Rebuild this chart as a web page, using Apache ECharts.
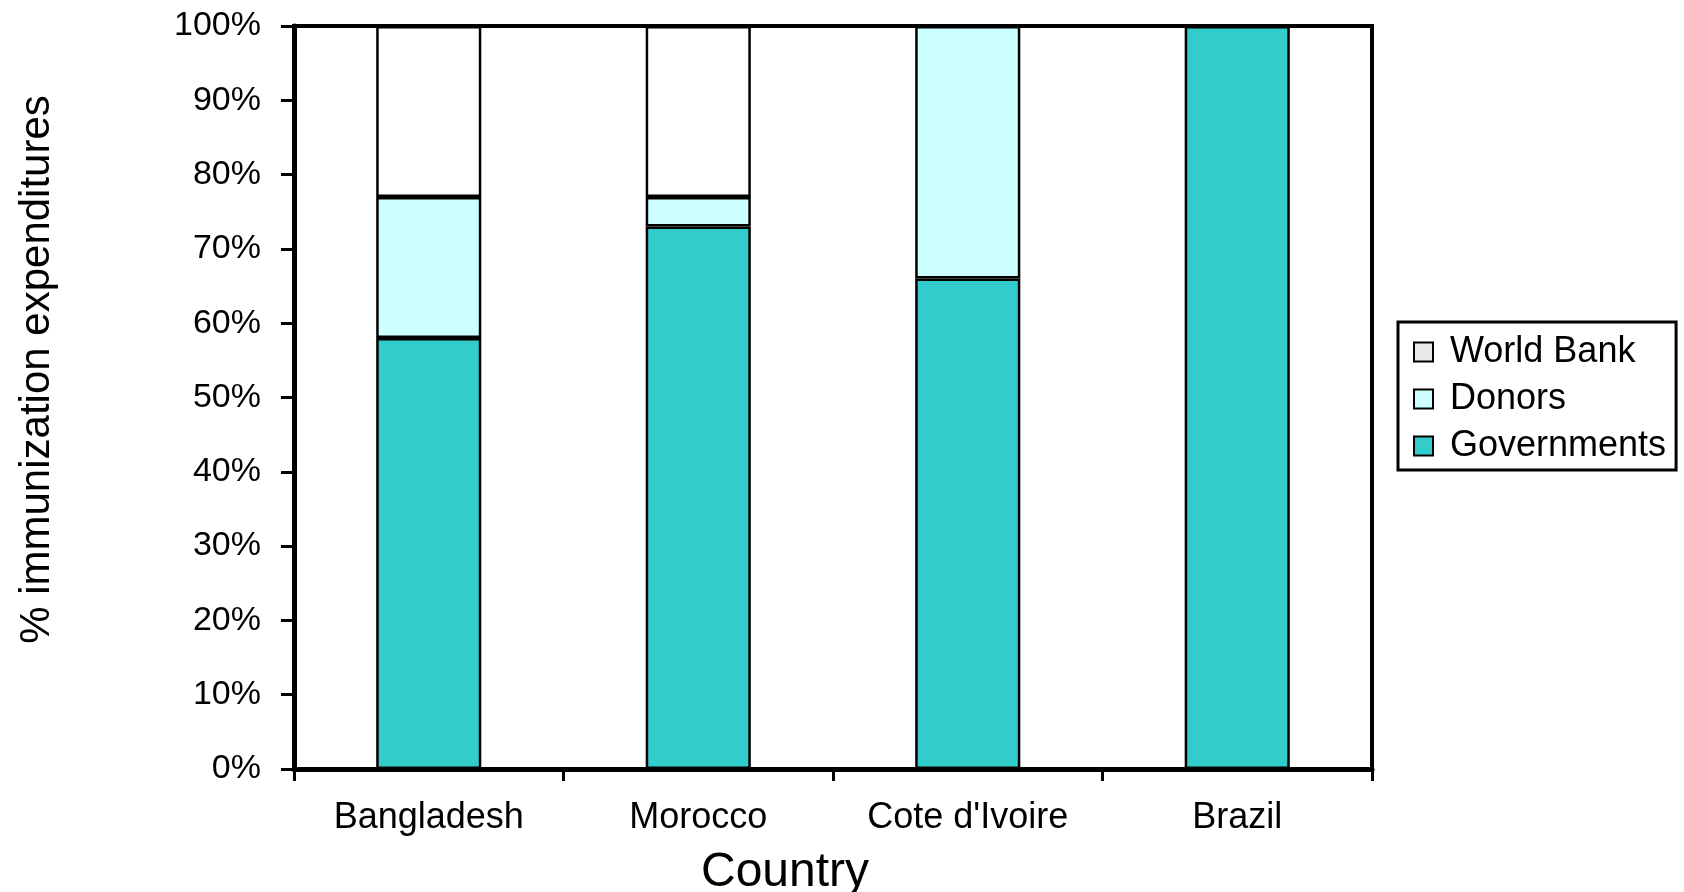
<!DOCTYPE html>
<html>
<head>
<meta charset="utf-8">
<title>Immunization expenditures by source</title>
<script src="https://cdn.jsdelivr.net/npm/echarts@6/dist/echarts.min.js"></script>
<style>
  html, body { margin: 0; padding: 0; background: #ffffff; }
  #chart { width: 1684px; height: 892px; }
</style>
</head>
<body>
<div id="chart"></div>
<script>
// Share of immunization expenditures by funding source (percent of total)
const countries = ['Bangladesh', 'Morocco', "Cote d'Ivoire", 'Brazil'];
const governments = [58, 73, 66, 100];
const donors = [19, 4, 34, 0];
const worldBank = [23, 23, 0, 0];

const FONT = '"Liberation Sans", Arial, sans-serif';
const chart = echarts.init(document.getElementById('chart'), null, { renderer: 'canvas' });

const barStyle = (color) => ({ color: color, borderColor: '#000000', borderWidth: 2.5 });

chart.setOption({
  backgroundColor: '#ffffff',
  animation: false,
  textStyle: { fontFamily: FONT, color: '#000000' },
  grid: {
    left: 294, right: 312, top: 26, bottom: 123,
    outerBoundsMode: 'none',
    show: true, borderColor: '#000000', borderWidth: 4, backgroundColor: 'transparent'
  },
  legend: {
    orient: 'vertical',
    left: 1398, top: 322,
    data: [
      { name: 'World Bank', itemStyle: { color: '#e8e8e8', borderColor: '#000000', borderWidth: 2 } },
      { name: 'Donors', itemStyle: { color: '#ccffff', borderColor: '#000000', borderWidth: 2 } },
      { name: 'Governments', itemStyle: { color: '#33cccc', borderColor: '#000000', borderWidth: 2 } }
    ],
    icon: 'rect',
    itemWidth: 19, itemHeight: 19, itemGap: 11,
    padding: [12, 10, 6, 15],
    borderColor: '#000000', borderWidth: 3,
    selectedMode: false,
    textStyle: { fontFamily: FONT, fontSize: 36, color: '#000000', padding: [0, 0, 0, 12] }
  },
  xAxis: {
    type: 'category',
    data: countries,
    name: 'Country',
    nameLocation: 'middle',
    nameGap: 80,
    nameTextStyle: { fontFamily: FONT, fontSize: 48, color: '#000000', padding: [0, 96, 0, 0] },
    axisLine: { show: true, lineStyle: { color: '#000000', width: 5 } },
    axisTick: { show: true, length: 12, lineStyle: { color: '#000000', width: 3 } },
    axisLabel: { fontFamily: FONT, fontSize: 36, color: '#000000', margin: 31 },
    splitLine: { show: false }
  },
  yAxis: {
    type: 'value',
    min: 0, max: 100, interval: 10,
    name: '% immunization expenditures',
    nameLocation: 'middle',
    nameRotate: 90,
    nameGap: 236,
    nameTextStyle: { fontFamily: FONT, fontSize: 42, color: '#000000', padding: [0, 0, 0, 56] },
    axisLine: { show: true, lineStyle: { color: '#000000', width: 5 } },
    axisTick: { show: true, length: 13, lineStyle: { color: '#000000', width: 3 } },
    axisLabel: { fontFamily: FONT, fontSize: 34, color: '#000000', margin: 33, formatter: '{value}%' },
    splitLine: { show: false }
  },
  series: [
    { name: 'Governments', type: 'bar', stack: 'total', barWidth: '39%', data: governments, itemStyle: barStyle('#33cccc') },
    { name: 'Donors', type: 'bar', stack: 'total', barWidth: '39%', data: donors, itemStyle: barStyle('#ccffff') },
    { name: 'World Bank', type: 'bar', stack: 'total', barWidth: '39%', data: worldBank, itemStyle: barStyle('#ffffff') }
  ]
});
</script>
</body>
</html>
